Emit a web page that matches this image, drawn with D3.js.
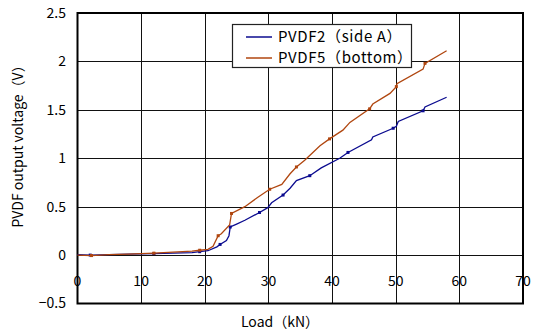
<!DOCTYPE html>
<html>
<head>
<meta charset="utf-8">
<script src="https://cdn.jsdelivr.net/npm/d3@7"></script>
<style>
  body { margin: 0; background: #fff; }
  svg text { font-family: "Noto Sans CJK JP", "Noto Sans", sans-serif; fill: #000; }
</style>
</head>
<body>
<svg id="chart" width="534" height="331"></svg>
<script>
// PVDF2 (side A)
const load2 = [0, 2, 5, 8, 12, 15, 18, 19.2, 20.5, 21.9, 22.4, 23.4, 23.8, 24.0, 25.0, 26.3, 28.6, 29.9, 30.5, 32.3, 33.4, 34.4, 36.5, 38.3, 41.2, 42.5, 46.2, 46.4, 49.6, 50.1, 50.4, 54.3, 54.6, 58.0]
const volt2 = [0.005, 0.0, 0.005, 0.01, 0.015, 0.02, 0.025, 0.035, 0.045, 0.085, 0.11, 0.15, 0.2, 0.29, 0.32, 0.36, 0.44, 0.49, 0.54, 0.62, 0.69, 0.77, 0.82, 0.90, 1.00, 1.06, 1.19, 1.22, 1.31, 1.33, 1.38, 1.49, 1.53, 1.63]
// PVDF5 (bottom)
const load5 = [0, 2.2, 5, 8, 12, 15, 18, 19.2, 20.5, 21.3, 22.1, 22.6, 23.9, 24.2, 26.3, 28.4, 30.2, 32.1, 33.4, 34.4, 35.7, 38.1, 39.6, 41.7, 42.8, 45.9, 46.4, 49.1, 50.1, 50.2, 54.3, 54.6, 58.0]
const volt5 = [0.0, -0.005, 0.005, 0.01, 0.02, 0.03, 0.04, 0.05, 0.06, 0.09, 0.2, 0.22, 0.31, 0.43, 0.50, 0.60, 0.68, 0.73, 0.84, 0.91, 0.98, 1.13, 1.20, 1.29, 1.37, 1.51, 1.56, 1.67, 1.74, 1.77, 1.92, 1.98, 2.11]

const xTicks = [0, 10, 20, 30, 40, 50, 60, 70]
const yTicks = [-0.5, 0, 0.5, 1, 1.5, 2, 2.5]
const seriesNames = ['PVDF2（side A）', 'PVDF5（bottom）']
const seriesColors = ['#0b0b8f', '#b0460f']

const svg = d3.select('#chart')
const x = d3.scaleLinear().domain([0, 70]).range([77.5, 523])
const y = d3.scaleLinear().domain([-0.5, 2.5]).range([303.5, 13])

// grid
const grid = svg.append('g').attr('shape-rendering', 'crispEdges')
grid.selectAll('line.v').data(xTicks.slice(1, -1)).enter().append('line')
  .attr('x1', d => Math.round(x(d)) + 0.5).attr('x2', d => Math.round(x(d)) + 0.5)
  .attr('y1', y(2.5)).attr('y2', y(-0.5))
  .attr('stroke', '#111').attr('stroke-width', 1)
grid.selectAll('line.h').data(yTicks.slice(1, -1)).enter().append('line')
  .attr('y1', d => Math.round(y(d)) + 0.5).attr('y2', d => Math.round(y(d)) + 0.5)
  .attr('x1', x(0)).attr('x2', x(70))
  .attr('stroke', '#111').attr('stroke-width', 1)

// frame
svg.append('rect')
  .attr('x', x(0)).attr('y', y(2.5))
  .attr('width', x(70) - x(0)).attr('height', y(-0.5) - y(2.5))
  .attr('fill', 'none').attr('stroke', '#000').attr('stroke-width', 2)

// y tick labels
svg.append('g').selectAll('text').data(yTicks).enter().append('text')
  .attr('x', 66).attr('y', d => y(d)).attr('dy', '0.35em')
  .attr('text-anchor', 'end').attr('font-size', 14)
  .text(d => d < 0 ? '−' + Math.abs(d) : d)

// x tick labels (placed at the zero line, Excel style)
svg.append('g').selectAll('text').data(xTicks).enter().append('text')
  .attr('x', d => x(d)).attr('y', 286)
  .attr('text-anchor', 'middle').attr('font-size', 14)
  .text(d => d)

// axis titles
svg.append('text').attr('x', 280).attr('y', 327).attr('text-anchor', 'middle')
  .attr('font-size', 14).text('Load（kN）')
svg.append('text').attr('transform', 'translate(23,143) rotate(-90)')
  .attr('text-anchor', 'middle').attr('font-size', 14).text('PVDF output voltage（V）')

// lines
const line = d3.line().x(d => x(d[0])).y(d => y(d[1]))
const series = [d3.zip(load2, volt2), d3.zip(load5, volt5)]
series.forEach((pts, i) => {
  svg.append('path').datum(pts).attr('d', line)
    .attr('fill', 'none').attr('stroke', seriesColors[i]).attr('stroke-width', 1.3)
  svg.append('g').selectAll('rect').data(pts.filter((p, j) => j % 3 === 1)).enter().append('rect')
    .attr('x', d => x(d[0]) - 1.5).attr('y', d => y(d[1]) - 1.5)
    .attr('width', 3).attr('height', 3).attr('fill', seriesColors[i])
})

// legend
const lg = svg.append('g')
lg.append('rect').attr('x', 232.5).attr('y', 24.5).attr('width', 179).attr('height', 43)
  .attr('fill', '#fff').attr('stroke', '#222').attr('stroke-width', 1.2)
seriesNames.forEach((name, i) => {
  const yy = 37 + i * 21
  lg.append('line').attr('x1', 246).attr('x2', 272).attr('y1', yy).attr('y2', yy)
    .attr('stroke', seriesColors[i]).attr('stroke-width', 1.5)
  lg.append('text').attr('x', 278).attr('y', yy).attr('dy', '0.35em')
    .attr('font-size', 15).attr('letter-spacing', 0.6).text(name)
})
</script>
</body>
</html>
